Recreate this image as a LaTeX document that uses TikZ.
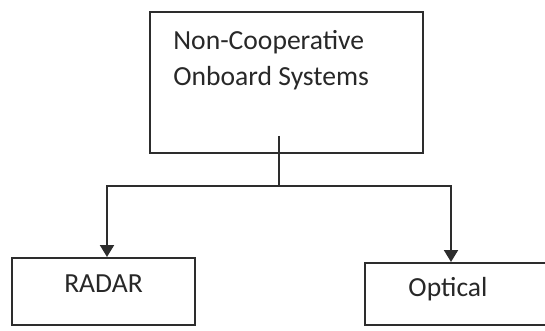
\documentclass[tikz,border=0pt]{standalone}
\usepackage{fontspec}
\setmainfont{Carlito}
\usetikzlibrary{calc,positioning,arrows.meta}
\definecolor{inkline}{RGB}{45,45,45}
\definecolor{inktext}{RGB}{40,40,40}
\tikzset{
  sysbox/.style={draw=inkline, line width=1pt, fill=white, inner sep=0pt},
  boxtext/.style={font=\fontsize{13.8}{18}\selectfont, text=inktext, inner sep=0pt},
  link/.style={draw=inkline, line width=1pt},
  linkarrow/.style={link, -{Triangle[length=6pt, width=7pt]}},
}

\begin{document}
\begin{tikzpicture}[x=0.5pt, y=-0.5pt]
  \useasboundingbox (0,0) rectangle (545,331);
  \clip (0,0) rectangle (545,331);
  % parent box
  \node[sysbox, minimum width=136.5pt, minimum height=70.5pt] (noncoop) at (286.5,82.5) {};
  \node[boxtext, anchor=north west, align=left] (noncooptext) at (173,30)
    {Non-Cooperative\\Onboard Systems};
  % children
  \node[sysbox, minimum width=91.5pt, minimum height=33.5pt, boxtext, text depth=8pt] (radar) at (103.5,291.5) {RADAR};
  \node[sysbox, minimum width=100pt, minimum height=31pt] (optical) at (465,294) {};
  \node[boxtext] (opticaltext) at (448,289) {Optical};
  % connectors
  \coordinate (split) at (279,186);
  \draw[link] ($(noncoop.south)+(-7.5,-18)$) -- (split);
  \draw[linkarrow] (split) -| ($(radar.north)+(3.5,0)$);
  \draw[linkarrow] (split) -| ($(optical.north west)+(87,0)$);
\end{tikzpicture}
\end{document}
